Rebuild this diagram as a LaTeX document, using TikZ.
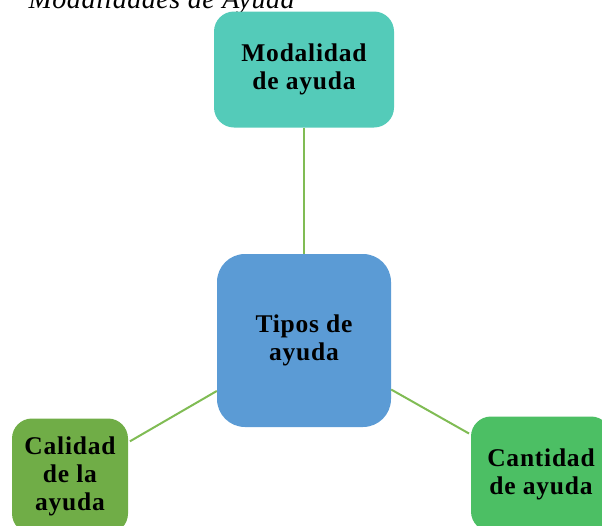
\documentclass[tikz,border=0pt]{standalone}
\usepackage{fontspec}
\setmainfont{Liberation Serif}
\newfontfamily\boxfont{Liberation Serif}[LetterSpace=3]
\newfontfamily\titfont{Liberation Serif}[LetterSpace=2]
\definecolor{teal1}{RGB}{84,203,185}
\definecolor{blue1}{RGB}{91,155,213}
\definecolor{green1}{RGB}{112,173,71}
\definecolor{green2}{RGB}{76,191,100}
\definecolor{line1}{RGB}{128,188,84}
\tikzset{
    BX/.style ={rectangle, rounded corners=20pt, inner sep=0pt, align=center,
                font=\boxfont\bfseries\fontsize{25.5}{28}\selectfont},
    BX1/.style ={BX, minimum width = 180pt, minimum height = 116pt, fill=teal1},
    BX2/.style ={BX, rounded corners=28pt, minimum width = 174pt, minimum height = 173pt, fill=blue1},
    BX3/.style ={BX, minimum width = 116pt, minimum height = 115pt, fill=green1},
    BX4/.style ={BX, minimum width = 140pt, minimum height = 115pt, fill=green2},
    LN/.style ={line width=2pt, line1}}

\begin{document}
\begin{tikzpicture}[x=1pt,y=-1pt]
        \useasboundingbox (0,0) rectangle (602,525);
        \clip (0,0) rectangle (602,525);
        \node[anchor=base west, font=\titfont\itshape\fontsize{28}{30}\selectfont] (title) at (25,8) {Modalidades de Ayuda};
        \node[BX1] (modal) at (304,69.5) {Modalidad\\de ayuda};
        \node[BX2] (tipos) at (304,340.5) {Tipos de\\ayuda};
        \node[BX3] (calid) at (70,476) {Calidad\\de la\\ayuda};
        \node[BX4] (canti) at (541,474) {Cantidad\\de ayuda};
        \draw[LN] (modal) -- (tipos);
        \draw[LN,shorten <=2pt] (calid) -- (tipos);
        \draw[LN,shorten >=2pt] (tipos) -- (canti);
    \end{tikzpicture}
\end{document}
